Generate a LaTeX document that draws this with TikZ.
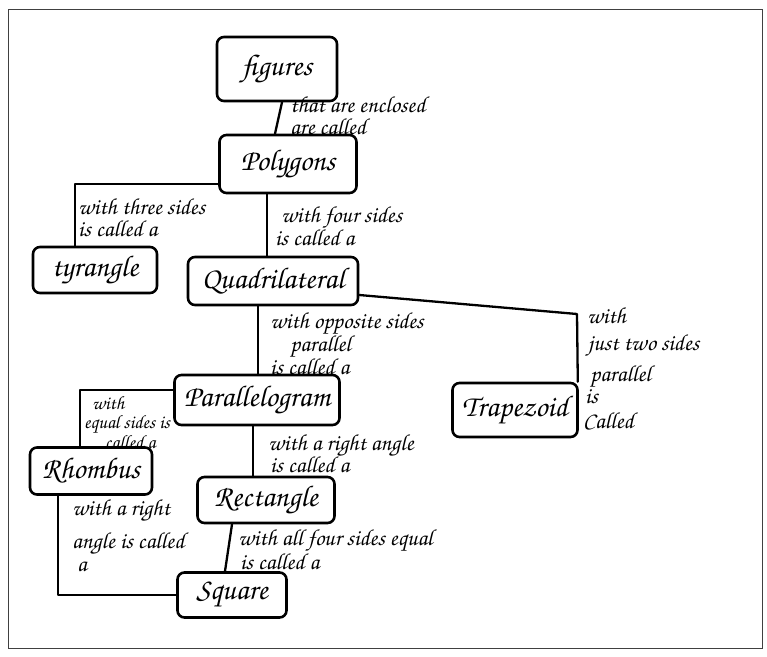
\documentclass[tikz,border=0pt]{standalone}
\usepackage[T1]{fontenc}
\newcommand{\hand}{\fontencoding{T1}\fontfamily{pzc}\fontseries{mb}\fontshape{it}\selectfont}
\begin{document}
\begin{tikzpicture}[x=1pt,y=-1pt,
  box/.style={draw,line width=2.6pt,rounded corners=7pt,inner sep=0pt,font=\hand\fontsize{30}{30}\selectfont},
  lbl/.style={anchor=base west,inner sep=0pt,font=\hand\fontsize{23}{23}\selectfont},
  slbl/.style={lbl,font=\hand\fontsize{19}{19}\selectfont},
  conn/.style={line width=2.3pt,line join=round,line cap=round}]
\useasboundingbox (0,0) rectangle (767,656);
\draw[line width=1pt,black!75] (8,9) rectangle (762,648);
% boxes
\node[box,minimum width=120pt,minimum height=64pt] (figures) at (277,69) {figures};
\node[box,minimum width=137pt,minimum height=58pt] (polygons) at (288,164) {Polygons};
\node[box,minimum width=124pt,minimum height=46pt] (tyrangle) at (95,270) {tyrangle};
\node[box,minimum width=170pt,minimum height=48pt] (quad) at (273,281) {Quadrilateral};
\node[box,minimum width=125pt,minimum height=54pt] (trap) at (515,410) {Trapezoid};
\node[box,minimum width=165pt,minimum height=50pt] (para) at (257,400) {Parallelogram};
\node[box,minimum width=122pt,minimum height=47pt] (rhombus) at (91,471) {Rhombus};
\node[box,minimum width=137pt,minimum height=46pt] (rect) at (266,500) {Rectangle};
\node[box,minimum width=109pt,minimum height=45pt] (square) at (232,595) {Square};
% connectors
\draw[conn] ([xshift=5pt]figures.south) -- ([xshift=-13pt]polygons.north);
\draw[conn] ([yshift=-20pt]polygons.west) -| ([xshift=-20pt]tyrangle.north);
\draw[conn] ([xshift=-21pt]polygons.south) -- ([xshift=-21pt]polygons.south |- quad.north);
\coordinate (qt) at (577,314);
\draw[conn] ([yshift=-14pt]quad.east) -- (qt) -- ([xshift=-1pt]trap.north east);
\draw[conn] ([xshift=-15pt]quad.south) -- ([xshift=-15pt]quad.south |- para.north);
\draw[conn] ([yshift=10pt]para.west) -| ([xshift=-11pt]rhombus.north);
\draw[conn] ([xshift=-4pt]para.south) -- ([xshift=-4pt]para.south |- rect.north);
\draw[conn] ([xshift=-33pt]rhombus.south) |- (square.west);
\draw[conn] ([xshift=-34pt]rect.south) -- ([xshift=-7pt]square.north);
% labels
\node[lbl] (l1a) at (290,112) {that are enclosed};
\node[lbl] (l1b) at (290,134) {are called};
\node[lbl] (l2a) at (78,214) {with three sides};
\node[lbl] (l2b) at (78,236) {is called a};
\node[lbl] (l3a) at (281,222) {with four sides};
\node[lbl] (l3b) at (275,245) {is called a};
\node[lbl] (l4a) at (270,328) {with opposite sides};
\node[lbl] (l4b) at (290,351) {parallel};
\node[lbl] (l4c) at (270,374) {is called a};
\node[lbl] (l5a) at (587,323) {with};
\node[lbl] (l5b) at (588,350) {just two sides};
\node[lbl] (l5c) at (590,381) {parallel};
\node[lbl] (l5d) at (585,403) {is};
\node[lbl] (l5e) at (583,428) {Called};
\node[slbl] (l6a) at (92,409) {with};
\node[slbl] (l6b) at (84,428) {equal sides is};
\node[slbl] (l6c) at (105,448) {called a};
\node[lbl] (l7a) at (268,450) {with a right angle};
\node[lbl] (l7b) at (270,472) {is called a};
\node[lbl] (l8a) at (72,515) {with a right};
\node[lbl] (l8b) at (72,548) {angle is called};
\node[lbl] (l8c) at (77,571) {a};
\node[lbl] (l9a) at (238,545) {with all four sides equal};
\node[lbl] (l9b) at (240,569) {is called a};
\end{tikzpicture}
\end{document}
